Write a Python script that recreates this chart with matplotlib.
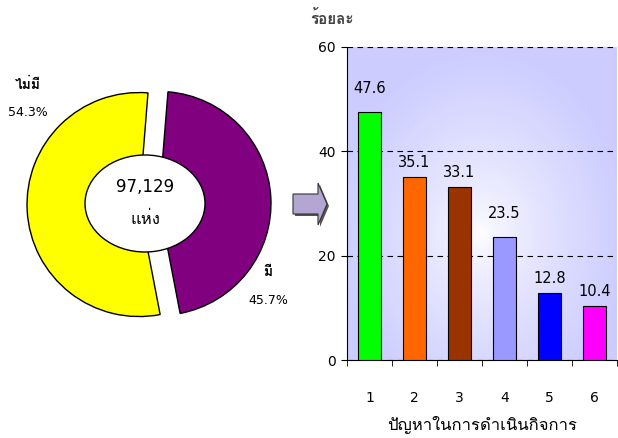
import matplotlib
matplotlib.use("Agg")
import matplotlib.pyplot as plt
from matplotlib import font_manager
from matplotlib.ft2font import FT2Font
from matplotlib.patches import Ellipse, Polygon
import numpy as np

# ข้อมูล
pie_labels = ["มี", "ไม่มี"]
pie_values = [45.7, 54.3]
pie_colors = ["#800080", "#FFFF00"]
total_text = "97,129"
unit_text = "แห่ง"

problems = ["1", "2", "3", "4", "5", "6"]
percent = [47.6, 35.1, 33.1, 23.5, 12.8, 10.4]
bar_colors = ["#00FF00", "#FF6600", "#993300", "#9999FF", "#0000FF", "#FF00FF"]
# ระยะป้ายค่าเหนือแท่ง (pt)
label_offsets = [17, 10.5, 10.5, 17, 10.5, 10.5]

# หาฟอนต์ที่มีอักษรไทย
thai_font = None
for f in font_manager.fontManager.ttflist:
    try:
        if 0x0E01 in FT2Font(f.fname).get_charmap():
            thai_font = f.name
            break
    except Exception:
        pass
plt.rcParams["font.family"] = ["DejaVu Sans"] + ([thai_font] if thai_font else [])

fig = plt.figure(figsize=(6.18, 4.38), dpi=100)

# พื้นที่สำหรับโดนัท (พิกัดเป็นพิกเซล แกน y ชี้ขึ้น)
ax0 = fig.add_axes([0, 0, 1, 1])
wedges, _ = ax0.pie(pie_values, colors=pie_colors, startangle=85.4, counterclock=False,
                    explode=[10, 10], radius=112, center=(149, 234),
                    wedgeprops=dict(edgecolor="black", linewidth=1))
ax0.add_patch(Ellipse((145, 234.5), 120, 97, facecolor="white", edgecolor="black", lw=1, zorder=5))
ax0.set_xlim(0, 618)
ax0.set_ylim(0, 438)
ax0.set_aspect("auto")
ax0.axis("off")

ax0.text(145, 251, total_text, ha="center", va="center", fontsize=12, zorder=6)
ax0.text(145, 219, unit_text, ha="center", va="center", fontsize=12, zorder=6)
ax0.text(28, 353, pie_labels[1], ha="center", va="center", fontsize=10, fontweight="bold")
ax0.text(28, 326, f"{pie_values[1]}%", ha="center", va="center", fontsize=9)
ax0.text(268, 166, pie_labels[0], ha="center", va="center", fontsize=10, fontweight="bold")
ax0.text(268, 138, f"{pie_values[0]}%", ha="center", va="center", fontsize=9)

# ลูกศร
arrow = [(293, 244), (318, 244), (318, 255), (327, 234), (318, 213), (318, 224), (293, 224)]
shadow = [(x + 2, y - 2) for x, y in arrow]
ax0.add_patch(Polygon(shadow, closed=True, facecolor="#555555", edgecolor="none"))
ax0.add_patch(Polygon(arrow, closed=True, facecolor="#B3A6D3", edgecolor="#333333", lw=0.8))

# กราฟแท่ง
ax = fig.add_axes([347 / 618, 1 - 360 / 438, 270 / 618, 313 / 438])
x = np.arange(len(percent))

# พื้นหลังไล่สี
gx, gy = np.meshgrid(np.linspace(0, 1, 300), np.linspace(0, 1, 300))
r = np.sqrt(((gx - 0.5) / 0.55) ** 2 + ((gy - 0.4) / 0.6) ** 2)
t = np.clip(r, 0, 1) ** 0.7
lav = np.array([204, 204, 255]) / 255
img = (1 - t)[..., None] * np.ones(3) + t[..., None] * lav
ax.imshow(img, extent=(0, 1, 0, 1), transform=ax.transAxes, origin="lower",
          aspect="auto", zorder=0)

ax.bar(x, percent, width=0.53, color=bar_colors, edgecolor="black", linewidth=0.8, zorder=3)
for xi, v, off in zip(x, percent, label_offsets):
    ax.annotate(f"{v}", (xi, v), xytext=(0, off), textcoords="offset points",
                ha="center", va="center", fontsize=10.5)

ax.set_xlim(-0.5, len(percent) - 0.5)
ax.set_ylim(0, 60)
ax.set_yticks([0, 20, 40, 60])
ax.yaxis.grid(True, linestyle=(0, (5, 4)), color="black", linewidth=0.8)
ax.set_axisbelow(False)
ax.set_xticks(x)
ax.set_xticklabels(problems)
ax.set_xticks(np.arange(-0.5, len(percent)), minor=True)
ax.tick_params(axis="x", which="major", length=0, pad=22, labelsize=10)
ax.tick_params(axis="x", which="minor", length=4, direction="out")
ax.tick_params(axis="y", length=4, direction="out", labelsize=10, pad=4)
for s in ["top", "right"]:
    ax.spines[s].set_visible(False)
ax.set_xlabel("ปัญหาในการดำเนินกิจการ", fontsize=12, labelpad=8)
fig.text(310 / 618, 1 - 18 / 438, "ร้อยละ", ha="left", va="center", fontsize=11,
         fontweight="bold", color="#404040")

fig.savefig("out.png", dpi=100)
